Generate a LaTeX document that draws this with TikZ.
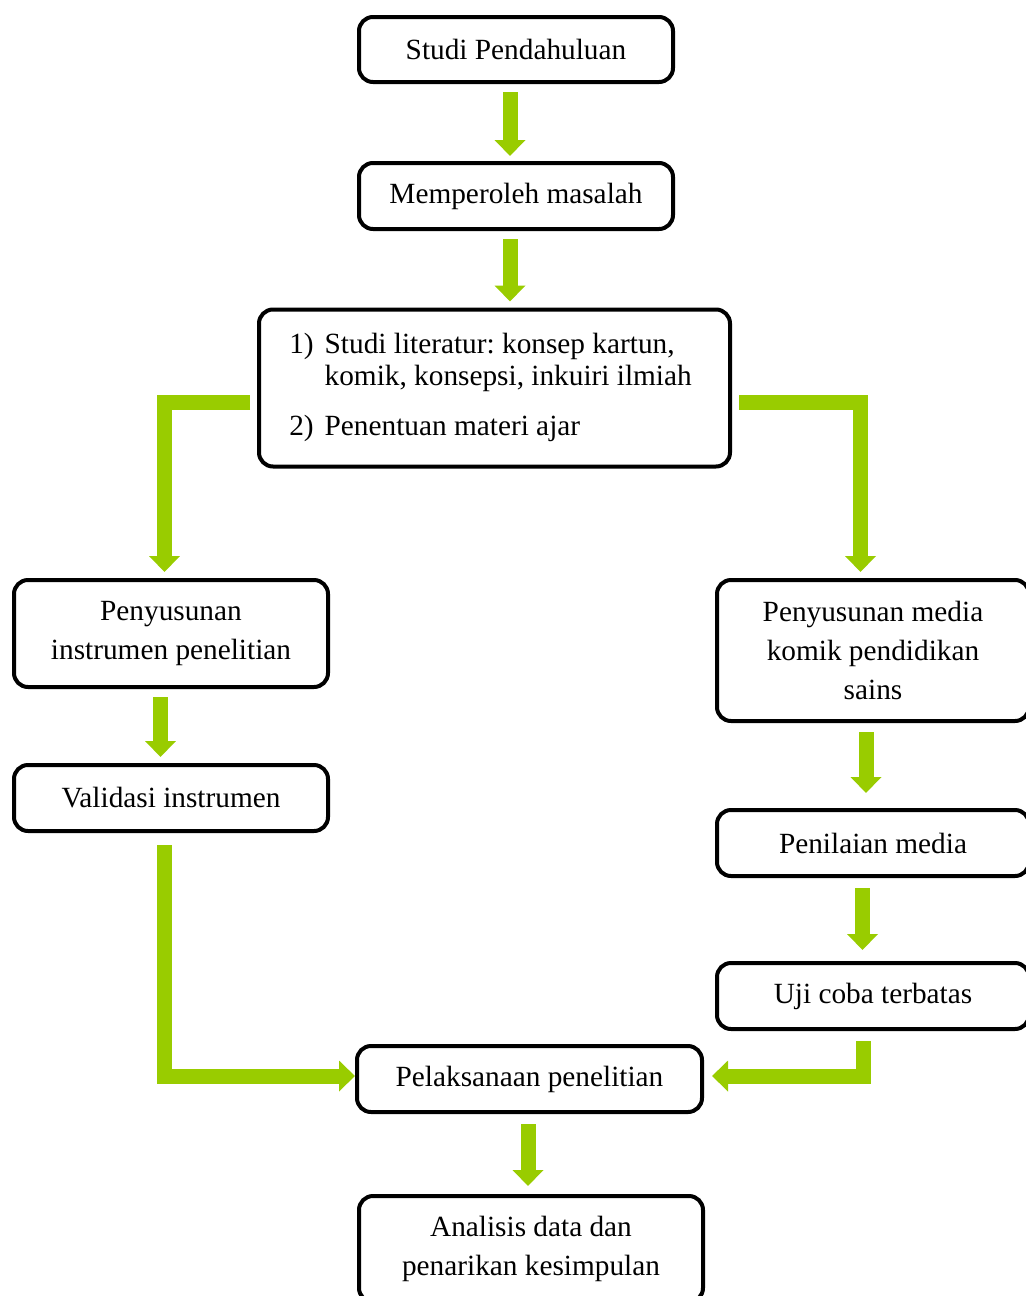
\documentclass[tikz,border=0pt]{standalone}
\usepackage{fontspec}
\setmainfont{Liberation Serif}
\usepackage{xcolor}
\usetikzlibrary{arrows.meta}
\definecolor{hijau}{HTML}{99CC00}
\frenchspacing

\begin{document}
\begin{tikzpicture}[x=0.5pt,y=-0.5pt,
	kotak/.style={draw,line width=2pt,rounded corners=7pt,align=center,inner sep=0pt,
		font=\fontsize{14.65pt}{19.5pt}\selectfont},
	panah/.style={draw=hijau,line width=7.5pt,-{Triangle[width=15pt,length=8pt]}}]
	\useasboundingbox (0,0) rectangle (1025,1296);
	\node[kotak,minimum width=157pt,minimum height=32.5pt] (s1) at (516,49.5) {Studi Pendahuluan};
	\node[kotak,minimum width=157pt,minimum height=33pt] (s2) at (516,196) {Memperoleh masalah};
	\node[kotak,minimum width=235.5pt,minimum height=78.5pt,font=\fontsize{14.65pt}{16pt}\selectfont] (s3) at (494.5,388)
		{\begin{tabular}{@{}l@{\hspace{5.5pt}}l@{}}
			1) & Studi literatur: konsep kartun,\\
			   & komik, konsepsi, inkuiri ilmiah\\[9pt]
			2) & Penentuan materi ajar
		\end{tabular}\hspace{4pt}};
	\node[kotak,minimum width=157pt,minimum height=53.5pt] (s4) at (171,633.5) {Penyusunan\\instrumen penelitian};
	\node[kotak,minimum width=157pt,minimum height=33pt] (s5) at (171,798) {Validasi instrumen};
	\node[kotak,minimum width=156pt,minimum height=70.5pt] (s6) at (873,650.5) {Penyusunan media\\komik pendidikan\\sains};
	\node[kotak,minimum width=156pt,minimum height=33pt] (s7) at (873,843) {Penilaian media};
	\node[kotak,minimum width=156pt,minimum height=33pt] (s8) at (873,996) {Uji coba terbatas};
	\node[kotak,minimum width=172.5pt,minimum height=33pt] (s9) at (529.5,1079) {Pelaksanaan penelitian};
	\node[kotak,minimum width=172pt,minimum height=53pt] (s10) at (531,1249) {Analisis data dan\\penarikan kesimpulan};

	\draw[panah] ([shift={(-3pt,-4pt)}]s1.south) -- ([shift={(-3pt,2.5pt)}]s2.north);
	\draw[panah] ([shift={(-3pt,-4pt)}]s2.south) -- ([shift={(7.75pt,3pt)}]s3.north);
	\draw[panah] ([shift={(-3.5pt,-7pt)}]s3.west) -| ([shift={(-3.25pt,3pt)}]s4.north);
	\draw[panah] ([shift={(3.5pt,-7pt)}]s3.east) -| ([shift={(-6.25pt,3pt)}]s6.north);
	\draw[panah] ([shift={(-5.25pt,-4pt)}]s4.south) -- ([shift={(-5.25pt,3pt)}]s5.north);
	\draw[panah] ([shift={(-3.5pt,-4.5pt)}]s6.south) -- ([shift={(-3.5pt,7.5pt)}]s7.north);
	\draw[panah] ([shift={(-5.25pt,-5pt)}]s7.south) -- ([shift={(-5.25pt,5.5pt)}]s8.north);
	\draw[panah] ([shift={(-3.25pt,-6pt)}]s5.south) |- ([yshift=1.5pt]s9.west);
	\draw[panah] ([shift={(-5pt,-5pt)}]s8.south) |- ([shift={(4pt,1.5pt)}]s9.east);
	\draw[panah] ([shift={(-0.75pt,-5pt)}]s9.south) -- ([shift={(-1.5pt,4pt)}]s10.north);
\end{tikzpicture}
\end{document}
